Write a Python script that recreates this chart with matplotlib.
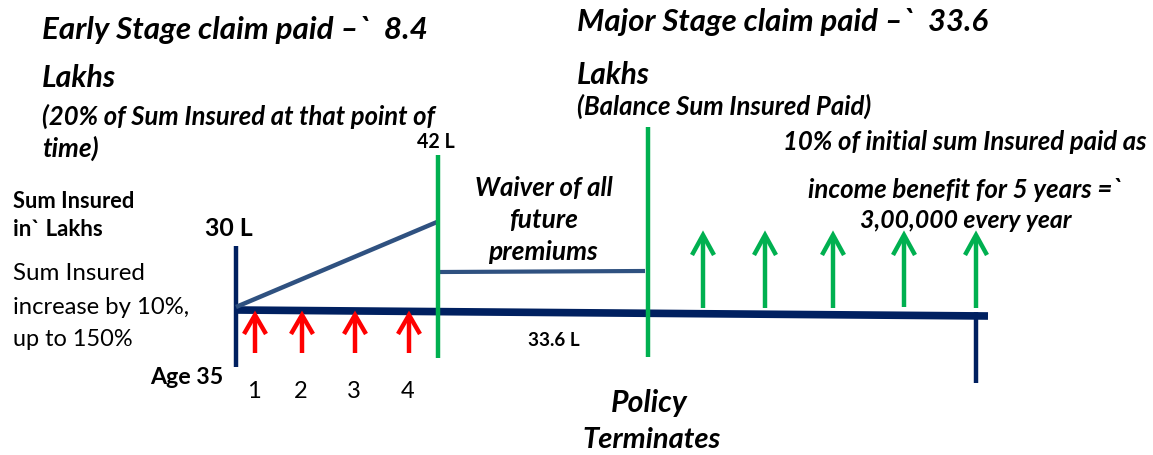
import matplotlib
matplotlib.use("Agg")
import matplotlib.pyplot as plt

plt.rcParams['font.family'] = ['Lato', 'DejaVu Sans']

# ---- data ----
premium_years = ["1", "2", "3", "4"]
premium_x = [255, 302, 355, 409]
income_x = [703, 765, 833, 904, 976]
income_tip_y = [235, 235, 235, 235, 235]
income_base_y = [308, 308, 308, 307, 308]
sum_insured_start = "30 L"
sum_insured_peak = "42 L"
sum_insured_balance = "33.6 L"

NAVY = "#002060"
STEEL = "#2f5180"
GREEN = "#00b050"
RED = "#ff0000"

fig = plt.figure(figsize=(11.53, 4.55), dpi=100)
ax = fig.add_axes([0, 0, 1, 1])
ax.set_xlim(0, 1153)
ax.set_ylim(455, 0)
ax.axis("off")
renderer = fig.canvas.get_renderer()

# timeline
ax.plot([236, 988], [310, 316], color=NAVY, lw=5.5, solid_capstyle="butt")
ax.plot([236, 236], [246, 367], color=NAVY, lw=3.2, solid_capstyle="butt")
ax.plot([976, 976], [312, 383], color=NAVY, lw=3.2, solid_capstyle="butt")
# sum insured growth
ax.plot([236, 437], [307, 222], color=STEEL, lw=3.2, solid_capstyle="butt")
ax.plot([440, 645], [272, 271], color=STEEL, lw=3.0, solid_capstyle="butt")
# green event lines
ax.plot([438, 438], [155, 358], color=GREEN, lw=3.2, solid_capstyle="butt")
ax.plot([648, 648], [127, 357], color=GREEN, lw=3.2, solid_capstyle="butt")


def up_arrow(x, tip, base, color, hw=11, hl=19):
    ax.plot([x, x], [base, tip + 2], color=color, lw=3.2, solid_capstyle="butt")
    ax.plot([x - hw, x, x + hw], [tip + hl, tip, tip + hl], color=color, lw=3.2,
            solid_joinstyle="miter", solid_capstyle="butt")


for x in premium_x:
    up_arrow(x, 315, 353, RED)
for x, t, b in zip(income_x, income_tip_y, income_base_y):
    up_arrow(x, t, b, GREEN, hw=11, hl=20)

# year labels
for x, lab in zip(premium_x, premium_years):
    ax.text(x - 1, 391, lab, ha="center", va="center", fontsize=17, color="black")


def fit(x, y, s, width, ha="left", fs=14, **kw):
    t = ax.text(x, y, s, ha=ha, va="center", fontsize=fs, color="black", **kw)
    w = t.get_window_extent(renderer).width
    t.set_fontsize(fs * width / w)
    return t


bi = dict(fontweight="bold", fontstyle="italic")
b = dict(fontweight="bold")

fit(42, 30, "Early Stage claim paid \u2013`  8.4", 386, **bi)
fit(42, 78, "Lakhs", 74, **bi)
fit(42, 116, "(20% of Sum Insured at that point of", 394, **bi)
fit(42, 148, "time)", 57, **bi)
fit(455, 142, sum_insured_peak, 38, ha="right", **b)

fit(577, 22, "Major Stage claim paid \u2013`  33.6", 411, **bi)
fit(577, 75, "Lakhs", 73, **bi)
fit(577, 106, "(Balance Sum Insured Paid)", 295, **bi)

fit(965, 142, "10% of initial sum Insured paid as", 364, ha="center", **bi)
fit(965, 190, "income benefit for 5 years =`", 315, ha="center", **bi)
fit(966, 221, "3,00,000 every year", 212, ha="center", **bi)

fit(13, 201, "Sum Insured", 122, **b)
fit(13, 229, "in` Lakhs", 90, **b)
fit(229, 228, sum_insured_start, 48, ha="center", **b)

fit(13, 274, "Sum Insured", 132)
fit(13, 308, "increase by 10%,", 177)
fit(13, 340, "up to 150%", 120)

fit(223, 378, "Age 35", 73, ha="right", **b)

fit(544, 188, "Waiver of all", 138, ha="center", **bi)
fit(543, 220, "future", 69, ha="center", **bi)
fit(543, 252, "premiums", 110, ha="center", **bi)
fit(554, 340, sum_insured_balance, 52, ha="center", **b)

fit(649, 403, "Policy", 77, ha="center", **bi)
fit(652, 440, "Terminates", 139, ha="center", **bi)

fig.savefig("out.png", dpi=100)
